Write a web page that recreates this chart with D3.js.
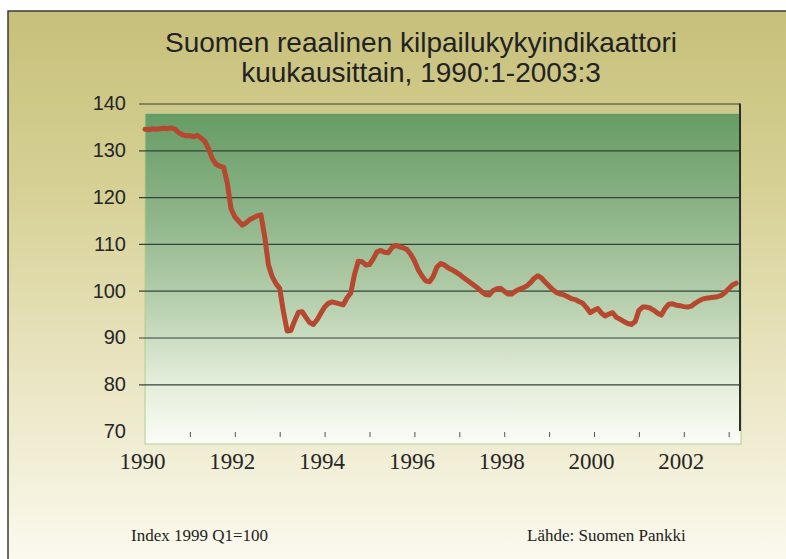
<!DOCTYPE html>
<html>
<head>
<meta charset="utf-8">
<script src="https://cdn.jsdelivr.net/npm/d3@7/dist/d3.min.js"></script>
<style>
  body { margin: 0; background: #fff; }
  svg { display: block; }
</style>
</head>
<body>
<div id="chart"></div>
<script>
// monthly index values, 1990:1 - 2003:3
var values1990 = [134.5, 134.4, 134.6, 134.5, 134.6, 134.7, 134.6, 134.8, 134.5, 133.8, 133.3, 133.1];
var values1991 = [133.1, 132.9, 133.2, 132.6, 131.9, 130.3, 128.2, 127.0, 126.6, 126.4, 123.0, 117.5];
var values1992 = [115.8, 114.9, 114.0, 114.5, 115.2, 115.6, 116.0, 116.2, 111.5, 105.5, 103.0, 101.5];
var values1993 = [100.5, 95.5, 91.4, 91.5, 93.6, 95.4, 95.5, 94.3, 93.2, 92.8, 93.8, 95.2];
var values1994 = [96.5, 97.3, 97.6, 97.4, 97.2, 97.0, 98.5, 99.5, 103.5, 106.3, 106.2, 105.5];
var values1995 = [105.6, 106.8, 108.3, 108.6, 108.2, 108.1, 109.2, 109.7, 109.4, 109.2, 108.8, 107.8];
var values1996 = [106.4, 104.5, 103.2, 102.1, 101.9, 103.0, 105.0, 105.8, 105.5, 104.9, 104.5, 104.0];
var values1997 = [103.5, 102.9, 102.3, 101.7, 101.1, 100.5, 99.8, 99.2, 99.1, 100.0, 100.4, 100.5];
var values1998 = [99.9, 99.3, 99.3, 99.9, 100.3, 100.6, 101.0, 101.7, 102.6, 103.2, 102.7, 101.8];
var values1999 = [101.0, 100.2, 99.6, 99.3, 99.1, 98.7, 98.3, 98.1, 97.7, 97.3, 96.4, 95.3];
var values2000 = [95.8, 96.2, 95.2, 94.6, 95.0, 95.3, 94.3, 93.9, 93.4, 93.0, 92.8, 93.4];
var values2001 = [95.8, 96.5, 96.5, 96.3, 95.8, 95.2, 94.8, 96.2, 97.1, 97.2, 96.9, 96.8];
var values2002 = [96.6, 96.5, 96.7, 97.3, 97.8, 98.2, 98.4, 98.5, 98.6, 98.7, 99.0, 99.6];
var values2003 = [100.4, 101.2, 101.6];

var yTicks = [70, 80, 90, 100, 110, 120, 130, 140];
var gridTicks = [80, 90, 100, 110, 120, 130, 140];
var yearTicks = d3.range(1991, 2004);
var yearLabels = [1990, 1992, 1994, 1996, 1998, 2000, 2002];

var titleLines = ["Suomen reaalinen kilpailukykyindikaattori", "kuukausittain, 1990:1-2003:3"];

var series = [].concat(values1990, values1991, values1992, values1993, values1994,
  values1995, values1996, values1997, values1998, values1999, values2000,
  values2001, values2002, values2003);
var data = series.map(function(v, i) {
  return { t: 1990 + i / 12, v: v };
});

var width = 786,
  height = 559;

var x = d3.scaleLinear().domain([1990, 2003]).range([145, 728.7]);
var y = d3.scaleLinear().domain([70, 140]).range([431.1, 103.5]);

var svg = d3.select("#chart")
  .append("svg")
  .attr("width", width)
  .attr("height", height);

var defs = svg.append("defs");

var bg = defs.append("linearGradient")
  .attr("id", "bg")
  .attr("x1", 0).attr("y1", 0).attr("x2", 0).attr("y2", 1);
bg.append("stop").attr("offset", "0%").attr("stop-color", "#c7c07b");
bg.append("stop").attr("offset", "30%").attr("stop-color", "#d5cf92");
bg.append("stop").attr("offset", "65%").attr("stop-color", "#e9e4c0");
bg.append("stop").attr("offset", "100%").attr("stop-color", "#fbf9ee");

var plotFill = defs.append("linearGradient")
  .attr("id", "plotfill")
  .attr("x1", 0).attr("y1", 0).attr("x2", 0).attr("y2", 1);
plotFill.append("stop").attr("offset", "0%").attr("stop-color", "#669c64");
plotFill.append("stop").attr("offset", "30%").attr("stop-color", "#8db488");
plotFill.append("stop").attr("offset", "55%").attr("stop-color", "#b3cdaa");
plotFill.append("stop").attr("offset", "80%").attr("stop-color", "#e1ecd8");
plotFill.append("stop").attr("offset", "100%").attr("stop-color", "#fbfcf6");

// card background and frame
svg.append("rect")
  .attr("x", 8).attr("y", 11)
  .attr("width", width - 8).attr("height", height - 11)
  .style("fill", "url(#bg)");
svg.append("path")
  .attr("d", "M8," + height + "V11H" + width)
  .style("fill", "none")
  .style("stroke", "#3b3b35")
  .style("stroke-width", 1.5);

// plot area
svg.append("rect")
  .attr("x", x(1990))
  .attr("y", y(137.9))
  .attr("width", 741 - x(1990))
  .attr("height", 444 - y(137.9))
  .style("fill", "url(#plotfill)")
  .style("stroke", "#b4cd92")
  .style("stroke-width", 1);

// title
svg.append("text")
  .attr("x", 421)
  .attr("y", 52)
  .attr("text-anchor", "middle")
  .style("font-family", "'Liberation Sans', Arial, sans-serif")
  .style("font-size", "28px")
  .style("fill", "#222")
  .selectAll("tspan")
  .data(titleLines)
  .enter().append("tspan")
  .attr("x", 421)
  .attr("dy", function(d, i) { return i === 0 ? 0 : 30; })
  .text(function(d) { return d; });

// gridlines (with left tick stubs)
var grid = svg.append("g")
  .attr("transform", "translate(740,0)")
  .call(d3.axisLeft(y).tickValues(gridTicks).tickSize(601).tickFormat(""));
grid.select(".domain").remove();
grid.selectAll("line").style("stroke", "#34423a").style("stroke-width", 1.2);

// y labels
var yAxis = svg.append("g")
  .attr("transform", "translate(126,0)")
  .call(d3.axisLeft(y).tickValues(yTicks).tickSize(0).tickPadding(0));
yAxis.select(".domain").remove();
yAxis.selectAll("text")
  .style("font-family", "'Liberation Sans', Arial, sans-serif")
  .style("font-size", "20px")
  .style("fill", "#262626");

// right border
svg.append("line")
  .attr("x1", 740).attr("x2", 740)
  .attr("y1", y(140)).attr("y2", y(70))
  .style("stroke", "#2a302a")
  .style("stroke-width", 2);

// year ticks inside the plot
var xTicks = svg.append("g")
  .attr("transform", "translate(0,437)")
  .call(d3.axisBottom(x).tickValues(yearTicks).tickSize(-5).tickFormat(""));
xTicks.select(".domain").remove();
xTicks.selectAll("line").style("stroke", "#555").style("stroke-width", 1);

// year labels
var xAxis = svg.append("g")
  .attr("transform", "translate(0,437)")
  .call(d3.axisBottom(x).tickValues(yearLabels).tickSize(0).tickPadding(16).tickFormat(d3.format("d")));
xAxis.select(".domain").remove();
xAxis.selectAll("text")
  .attr("dx", "-3")
  .style("font-family", "'Liberation Serif', 'Times New Roman', serif")
  .style("font-size", "23px")
  .style("fill", "#262626");

// index line
var line = d3.line()
  .x(function(d) { return x(d.t); })
  .y(function(d) { return y(d.v); });

svg.append("path")
  .datum(data)
  .attr("d", line)
  .style("fill", "none")
  .style("stroke", "#b5482e")
  .style("stroke-width", 5)
  .style("stroke-linejoin", "round")
  .style("stroke-linecap", "round");

// footer notes
svg.append("text")
  .attr("x", 131)
  .attr("y", 541)
  .style("font-family", "'Liberation Serif', 'Times New Roman', serif")
  .style("font-size", "17px")
  .style("fill", "#222")
  .text("Index 1999 Q1=100");

svg.append("text")
  .attr("x", 527)
  .attr("y", 541)
  .style("font-family", "'Liberation Serif', 'Times New Roman', serif")
  .style("font-size", "17px")
  .style("fill", "#222")
  .text("Lähde: Suomen Pankki");
</script>
</body>
</html>
